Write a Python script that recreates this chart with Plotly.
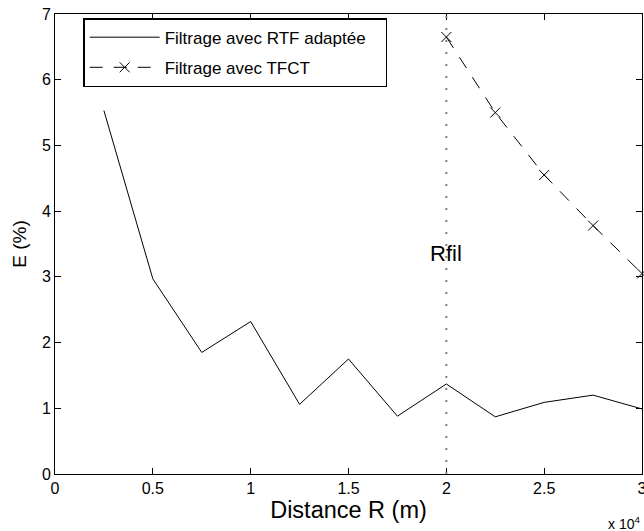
import plotly.graph_objects as go

# Data (x in units of 1e4 m)
r_rtf = [0.25, 0.5, 0.75, 1.0, 1.25, 1.5, 1.75, 2.0, 2.25, 2.5, 2.75, 3.0]
e_rtf = [5.53, 2.97, 1.85, 2.32, 1.06, 1.75, 0.88, 1.37, 0.87, 1.09, 1.20, 0.99]
r_tfct = [2.0, 2.25, 2.5, 2.75, 3.0]
e_tfct = [6.65, 5.50, 4.55, 3.78, 3.05]
R_FIL = 2.0
x_ticks = [0, 0.5, 1, 1.5, 2, 2.5, 3]
x_tick_labels = ["0", "0.5", "1", "1.5", "2", "2.5", "3"]
y_ticks = [0, 1, 2, 3, 4, 5, 6, 7]

FONT = "Liberation Sans, Arial, Helvetica, sans-serif"
PAD = "\u00a0\u00a0\u00a0"

fig = go.Figure()
fig.add_trace(go.Scatter(
    x=r_rtf, y=e_rtf, mode="lines", name="Filtrage avec RTF adaptée" + PAD,
    legendgroup="a",
    line=dict(color="black", width=1), cliponaxis=False))
fig.add_trace(go.Scatter(
    x=r_tfct, y=e_tfct, mode="lines+markers", name="Filtrage avec TFCT",
    legendgroup="b",
    line=dict(color="black", width=1, dash="13px,11px"),
    marker=dict(symbol="x-thin", size=10, line=dict(color="black", width=1)),
    cliponaxis=False))

fig.add_vline(x=R_FIL, line=dict(color="#808080", width=2, dash="2px,10px"))
fig.add_annotation(x=R_FIL, y=3.36, text="Rfil", showarrow=False,
                   font=dict(size=22, color="black", family=FONT))
fig.add_annotation(x=1.0, y=0, xref="paper", yref="paper", xanchor="right", yanchor="top",
                   xshift=0, yshift=-38, text="x 10<sup>4</sup>", showarrow=False,
                   font=dict(size=14, color="black", family=FONT))

axis_common = dict(showgrid=False, zeroline=False, showline=True, linecolor="black",
                   linewidth=1, mirror="ticks", ticks="inside", ticklen=6,
                   tickcolor="black", automargin=False, ticklabeloverflow="allow",
                   tickfont=dict(size=16, color="black", family=FONT))
fig.update_xaxes(range=[0, 3], tickvals=x_ticks, ticktext=x_tick_labels,
                 title=dict(text="Distance R (m)", font=dict(size=23.5, family=FONT, color="black"),
                            standoff=4), **axis_common)
fig.update_yaxes(range=[0, 7], tickvals=y_ticks,
                 title=dict(text="E (%)", font=dict(size=19, family=FONT, color="black"),
                            standoff=10), **axis_common)

fig.update_layout(
    width=644, height=531,
    margin=dict(l=55, r=2, t=14, b=57, autoexpand=False),
    paper_bgcolor="white", plot_bgcolor="white",
    font=dict(family=FONT, color="black"),
    legend=dict(x=0.048, y=0.991, xanchor="left", yanchor="top",
                bgcolor="white", bordercolor="black", borderwidth=1.5,
                font=dict(size=17, family=FONT, color="black"),
                tracegroupgap=5, itemwidth=70,
                traceorder="grouped"),
    showlegend=True,
)
fig.write_html("out.html", config={"displayModeBar": False},
               post_script="document.body.style.margin='0';document.body.style.overflow='hidden';")
